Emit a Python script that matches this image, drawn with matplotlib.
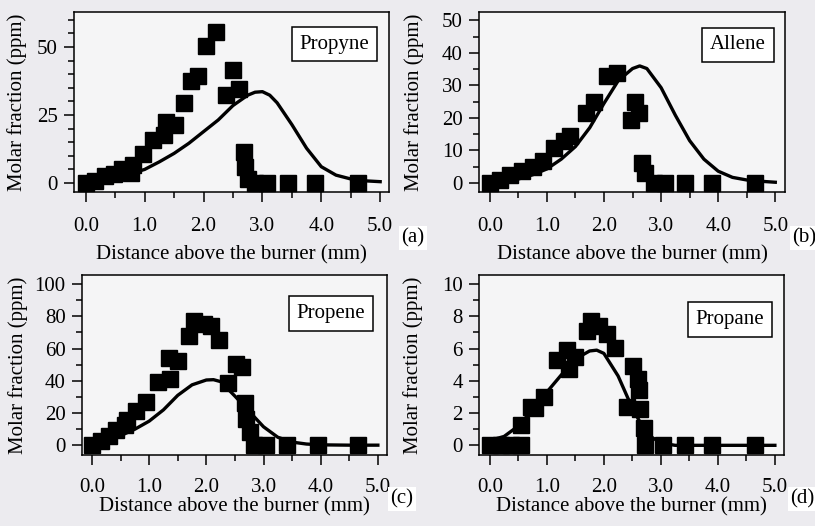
import matplotlib
matplotlib.use('Agg')
import matplotlib.pyplot as plt
from matplotlib.ticker import MultipleLocator, FormatStrFormatter

plt.rcParams['font.family'] = ['Liberation Serif', 'DejaVu Serif']
plt.rcParams['font.size'] = 15

# ---- measured mole fractions (squares) ----
propyne_x = [0.00, 0.16, 0.33, 0.48, 0.62, 0.76, 0.80, 0.97, 1.14, 1.33, 1.37, 1.52,
             1.67, 1.79, 1.90, 2.04, 2.21, 2.39, 2.50, 2.60, 2.68, 2.70, 2.75, 2.87,
             3.07, 3.44, 3.89, 4.63]
propyne_y = [0.0, 0.8, 2.5, 3.5, 5.0, 3.6, 6.5, 10.5, 16.0, 17.5, 22.5, 21.5,
             29.5, 37.5, 39.5, 50.5, 55.5, 32.5, 41.5, 34.5, 11.5, 6.0, 1.5, 0.0,
             0.0, 0.0, 0.0, 0.0]

allene_x = [0.00, 0.17, 0.36, 0.57, 0.76, 0.93, 1.13, 1.30, 1.40, 1.68, 1.83, 2.06,
            2.22, 2.47, 2.54, 2.62, 2.66, 2.71, 2.87, 3.06, 3.41, 3.89, 4.65]
allene_y = [0.0, 0.8, 2.3, 3.8, 4.8, 6.8, 10.8, 13.0, 14.5, 21.5, 24.8, 33.0,
            33.8, 19.4, 25.0, 21.5, 6.0, 3.0, 0.0, 0.0, 0.0, 0.0, 0.0]

propene_x = [0.00, 0.15, 0.30, 0.42, 0.57, 0.62, 0.77, 0.95, 1.15, 1.37, 1.34, 1.50,
             1.69, 1.78, 1.96, 2.08, 2.22, 2.38, 2.52, 2.62, 2.67, 2.70, 2.76, 2.83,
             3.05, 3.41, 3.96, 4.66]
propene_y = [0.0, 2.5, 6.0, 9.5, 12.5, 16.0, 21.0, 27.0, 39.0, 41.0, 54.0, 52.5,
             68.0, 77.0, 75.5, 74.0, 65.0, 38.5, 50.5, 48.5, 26.5, 16.5, 8.0, 0.0,
             0.0, 0.0, 0.0, 0.0]

propane_x = [0.00, 0.20, 0.38, 0.55, 0.55, 0.72, 0.80, 0.95, 1.17, 1.36, 1.38, 1.50,
             1.70, 1.78, 1.92, 2.05, 2.19, 2.40, 2.51, 2.60, 2.62, 2.63, 2.70, 2.72,
             3.04, 3.42, 3.89, 4.65]
propane_y = [0.0, 0.0, 0.0, 0.0, 1.25, 2.35, 2.3, 3.0, 5.3, 5.9, 4.75, 5.5,
             7.1, 7.7, 7.4, 6.9, 6.05, 2.4, 4.9, 4.1, 3.4, 2.25, 1.1, 0.0,
             0.0, 0.0, 0.0, 0.0]

# ---- simulated profiles (solid lines) ----
propyne_model_x = [0.0, 0.25, 0.5, 0.75, 1.0, 1.25, 1.5, 1.75, 2.0, 2.25, 2.5, 2.75,
                   2.875, 3.0, 3.125, 3.25, 3.5, 3.75, 4.0, 4.25, 4.5, 4.75, 5.0]
propyne_model_y = [0.3, 1.2, 2.2, 3.4, 5.0, 7.8, 10.9, 14.6, 18.9, 23.2, 28.5, 32.3,
                   33.4, 33.6, 32.3, 29.5, 21.5, 12.8, 6.0, 2.9, 1.5, 0.8, 0.5]

allene_model_x = [0.0, 0.25, 0.5, 0.75, 1.0, 1.25, 1.5, 1.75, 2.0, 2.25, 2.5, 2.625,
                  2.75, 3.0, 3.25, 3.5, 3.75, 4.0, 4.25, 4.5, 4.75, 5.0]
allene_model_y = [0.1, 0.5, 1.2, 2.5, 4.3, 7.3, 11.2, 17.0, 24.5, 31.5, 35.2, 36.0,
                  35.2, 29.3, 20.8, 13.0, 7.3, 3.6, 1.7, 0.9, 0.5, 0.2]

propene_model_x = [0.0, 0.25, 0.5, 0.75, 1.0, 1.25, 1.5, 1.75, 2.0, 2.125, 2.25, 2.5,
                   2.75, 3.0, 3.25, 3.5, 3.75, 4.0, 4.5, 5.0]
propene_model_y = [0.5, 2.5, 6.0, 10.0, 15.0, 22.0, 31.0, 37.5, 40.5, 40.7, 39.5, 30.5,
                   21.0, 11.5, 5.0, 2.0, 0.8, 0.3, 0.1, 0.1]

propane_model_x = [0.0, 0.25, 0.5, 0.75, 1.0, 1.25, 1.5, 1.75, 1.875, 2.0, 2.25, 2.5,
                   2.75, 3.0, 3.25, 3.5, 4.0, 4.5, 5.0]
propane_model_y = [0.3, 0.55, 1.2, 2.2, 3.3, 4.35, 5.35, 5.85, 5.9, 5.7, 4.3, 2.3,
                   0.7, 0.15, 0.0, 0.0, 0.0, 0.0, 0.0]

W, H = 815, 526
fig = plt.figure(figsize=(W / 100, H / 100), dpi=100, facecolor='#ecebef')

panels = [
    # frame = (left, top, right, bottom) in pixels
    dict(name='Propyne', x=propyne_x, y=propyne_y, mx=propyne_model_x, my=propyne_model_y,
         frame=(74, 12, 389, 192), xlim=(-0.2, 5.15), ylim=(-3.3, 62.9), major=25, minor=5,
         box=(0.827, 0.822), ylab_x=-0.148, xlab_y=-0.294, xpad=11.0, tag='(a)', tag_pos=(413, 238)),
    dict(name='Allene', x=allene_x, y=allene_y, mx=allene_model_x, my=allene_model_y,
         frame=(479, 12, 785, 192), xlim=(-0.19, 5.17), ylim=(-2.8, 52.6), major=10, minor=5,
         box=(0.846, 0.817), ylab_x=-0.181, xlab_y=-0.294, xpad=11.0, tag='(b)', tag_pos=(804, 238)),
    dict(name='Propene', x=propene_x, y=propene_y, mx=propene_model_x, my=propene_model_y,
         frame=(82, 275, 387, 455), xlim=(-0.175, 5.16), ylim=(-6.0, 105.6), major=20, minor=10,
         box=(0.817, 0.784), ylab_x=-0.176, xlab_y=-0.233, xpad=9.5, tag='(c)', tag_pos=(402, 499)),
    dict(name='Propane', x=propane_x, y=propane_y, mx=propane_model_x, my=propane_model_y,
         frame=(479, 275, 784, 455), xlim=(-0.19, 5.16), ylim=(-0.6, 10.56), major=2, minor=1,
         box=(0.823, 0.754), ylab_x=-0.182, xlab_y=-0.233, xpad=9.5, tag='(d)', tag_pos=(802, 499)),
]

for p in panels:
    left, top, right, bottom = p['frame']
    ax = fig.add_axes([left / W, 1 - bottom / H, (right - left) / W, (bottom - top) / H])
    ax.set_facecolor('#f5f5f6')

    ax.plot(p['mx'], p['my'], color='black', lw=2.4, zorder=2)
    ax.plot(p['x'], p['y'], ls='none', marker='s', ms=12, color='black', zorder=3)

    ax.set_xlim(*p['xlim'])
    ax.set_ylim(*p['ylim'])
    ax.xaxis.set_major_locator(MultipleLocator(1.0))
    ax.xaxis.set_minor_locator(MultipleLocator(0.5))
    ax.xaxis.set_major_formatter(FormatStrFormatter('%.1f'))
    ax.yaxis.set_major_locator(MultipleLocator(p['major']))
    ax.yaxis.set_minor_locator(MultipleLocator(p['minor']))
    ax.yaxis.set_major_formatter(FormatStrFormatter('%d'))

    for sp in ax.spines.values():
        sp.set_linewidth(1.1)
    ax.tick_params(which='both', direction='out', width=1.1, colors='black')
    ax.tick_params(which='major', length=7.2)
    ax.tick_params(which='minor', length=4.3)
    ax.tick_params(axis='x', which='major', pad=p['xpad'])
    ax.tick_params(axis='y', which='major', pad=4.5)

    ax.set_xlabel('Distance above the burner (mm)')
    ax.xaxis.set_label_coords(0.5, p['xlab_y'])
    ax.set_ylabel('Molar fraction (ppm)')
    ax.yaxis.set_label_coords(p['ylab_x'], 0.5)

    ax.text(p['box'][0], p['box'][1], p['name'], transform=ax.transAxes,
            ha='center', va='center', zorder=5,
            bbox=dict(boxstyle='square,pad=0.38', fc='white', ec='black', lw=1.1))

    tx, ty = p['tag_pos']
    fig.text(tx / W, 1 - ty / H, p['tag'], ha='center', va='center',
             bbox=dict(boxstyle='square,pad=0.1', fc='white', ec='none'))

fig.savefig('out.png', dpi=100, facecolor=fig.get_facecolor())
